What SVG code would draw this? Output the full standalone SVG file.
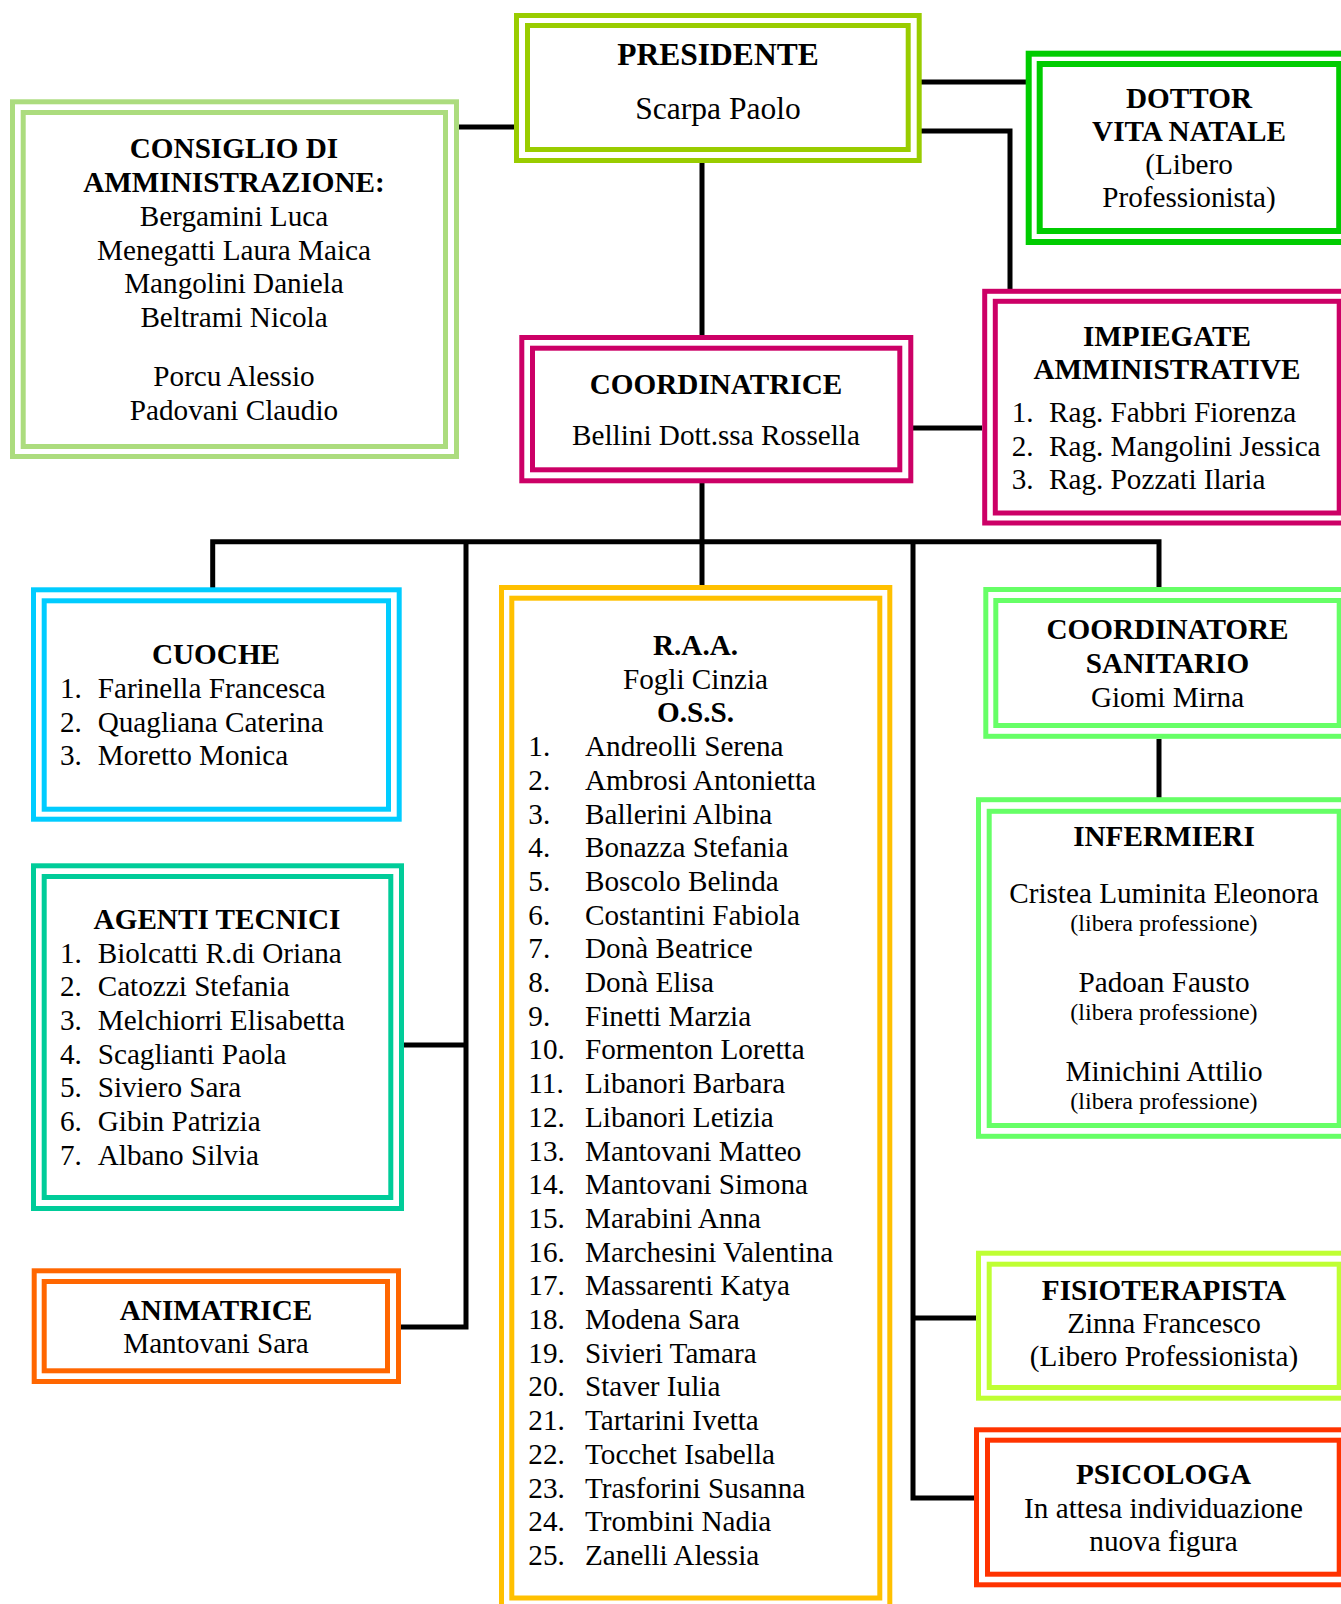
<svg xmlns="http://www.w3.org/2000/svg" width="1341" height="1604" viewBox="0 0 1341 1604">
<style>
rect{fill:none;stroke-width:5}
text{font-family:"Liberation Serif","Times New Roman",serif;font-size:29.2px;fill:#000}
.c{text-anchor:middle}
.b{font-weight:bold}
.big{font-size:31.5px}
.sm{font-size:24px}
.conn path{fill:none;stroke:#000;stroke-width:5}
</style>
<rect x="0" y="0" width="1341" height="1604" style="fill:#fff;stroke:none"/>
<g class="conn">
<path d="M458,127 H514"/>
<path d="M919,82 H1026"/>
<path d="M919,131 H1010 V291"/>
<path d="M702,163 V337"/>
<path d="M911,428 H982"/>
<path d="M702,483 V590"/>
<path d="M212.7,589 V541.7 H1159 V588"/>
<path d="M466,541.7 V1327 H401"/>
<path d="M404,1045 H466"/>
<path d="M913,541.7 V1498 H974"/>
<path d="M913,1318 H976"/>
<path d="M1159,739 V800"/>
</g>
<g id="presidente">
<rect x="516.5" y="15.5" width="402.7" height="145" stroke="#99CC00"/>
<rect x="527.5" y="25.5" width="380.7" height="124" stroke="#99CC00"/>
<text class="c b big" x="718" y="65">PRESIDENTE</text>
<text class="c big" x="718" y="119">Scarpa Paolo</text>
</g>
<g id="consiglio">
<rect x="12.5" y="101.8" width="444" height="354.7" stroke="#ACDC7E"/>
<rect x="23.2" y="112.5" width="422.3" height="334" stroke="#ACDC7E"/>
<text class="c b" x="234" y="158">CONSIGLIO DI</text>
<text class="c b" x="234" y="192">AMMINISTRAZIONE:</text>
<text class="c" x="234" y="226">Bergamini Luca</text>
<text class="c" x="234" y="260">Menegatti Laura Maica</text>
<text class="c" x="234" y="293">Mangolini Daniela</text>
<text class="c" x="234" y="327">Beltrami Nicola</text>
<text class="c" x="234" y="386">Porcu Alessio</text>
<text class="c" x="234" y="420">Padovani Claudio</text>
</g>
<g id="dottor">
<rect x="1028.7" y="53.7" width="322" height="188.3" stroke="#00CC00" style="stroke-width:6"/>
<rect x="1039.7" y="64" width="299.5" height="167" stroke="#00CC00" style="stroke-width:6"/>
<text class="c b" x="1189" y="108">DOTTOR</text>
<text class="c b" x="1189" y="141">VITA NATALE</text>
<text class="c" x="1189" y="174">(Libero</text>
<text class="c" x="1189" y="207">Professionista)</text>
</g>
<g id="impiegate">
<rect x="984.7" y="291.3" width="366" height="231.7" stroke="#CC0066"/>
<rect x="995.3" y="301.3" width="343.9" height="211.7" stroke="#CC0066"/>
<text class="c b" x="1167" y="346">IMPIEGATE</text>
<text class="c b" x="1167" y="379">AMMINISTRATIVE</text>
<text x="1011.7" y="422">1.</text><text x="1049" y="422">Rag. Fabbri Fiorenza</text>
<text x="1011.7" y="456">2.</text><text x="1049" y="456">Rag. Mangolini Jessica</text>
<text x="1011.7" y="489">3.</text><text x="1049" y="489">Rag. Pozzati Ilaria</text>
</g>
<g id="coordinatrice">
<rect x="521.8" y="337.5" width="389" height="143.3" stroke="#CC0066"/>
<rect x="532.5" y="348.2" width="367.3" height="121.6" stroke="#CC0066"/>
<text class="c b" x="716" y="394">COORDINATRICE</text>
<text class="c" x="716" y="445">Bellini Dott.ssa Rossella</text>
</g>
<g id="cuoche">
<rect x="33.5" y="589.8" width="365.7" height="229.4" stroke="#00CCFF"/>
<rect x="44.2" y="600.8" width="344.3" height="208.4" stroke="#00CCFF"/>
<text class="c b" x="216" y="664">CUOCHE</text>
<text x="60" y="698">1.</text><text x="97.7" y="698">Farinella Francesca</text>
<text x="60" y="732">2.</text><text x="97.7" y="732">Quagliana Caterina</text>
<text x="60" y="765">3.</text><text x="97.7" y="765">Moretto Monica</text>
</g>
<g id="agenti">
<rect x="33.5" y="865.8" width="368" height="342.7" stroke="#00CC99"/>
<rect x="44.2" y="876.5" width="346.6" height="321" stroke="#00CC99"/>
<text class="c b" x="217" y="929">AGENTI TECNICI</text>
<text x="60" y="962.5">1.</text><text x="97.7" y="962.5">Biolcatti R.di Oriana</text>
<text x="60" y="996.2">2.</text><text x="97.7" y="996.2">Catozzi Stefania</text>
<text x="60" y="1029.9">3.</text><text x="97.7" y="1029.9">Melchiorri Elisabetta</text>
<text x="60" y="1063.6">4.</text><text x="97.7" y="1063.6">Scaglianti Paola</text>
<text x="60" y="1097.3">5.</text><text x="97.7" y="1097.3">Siviero Sara</text>
<text x="60" y="1131">6.</text><text x="97.7" y="1131">Gibin Patrizia</text>
<text x="60" y="1164.7">7.</text><text x="97.7" y="1164.7">Albano Silvia</text>
</g>
<g id="animatrice">
<rect x="34.2" y="1270.8" width="364.3" height="110.7" stroke="#FF6600"/>
<rect x="44.2" y="1281.5" width="343.3" height="89.3" stroke="#FF6600"/>
<text class="c b" x="216" y="1320">ANIMATRICE</text>
<text class="c" x="216" y="1353">Mantovani Sara</text>
</g>
<g id="raa">
<rect x="501.5" y="587.5" width="388.3" height="1030" stroke="#FFC000"/>
<rect x="511.8" y="598.2" width="368" height="999.8" stroke="#FFC000"/>
<text class="c b" x="695.5" y="655">R.A.A.</text>
<text class="c" x="695.5" y="688.7">Fogli Cinzia</text>
<text class="c b" x="695.5" y="722.4">O.S.S.</text>
<text x="528.3" y="756.1">1.</text><text x="585" y="756.1">Andreolli Serena</text>
<text x="528.3" y="789.8">2.</text><text x="585" y="789.8">Ambrosi Antonietta</text>
<text x="528.3" y="823.5">3.</text><text x="585" y="823.5">Ballerini Albina</text>
<text x="528.3" y="857.2">4.</text><text x="585" y="857.2">Bonazza Stefania</text>
<text x="528.3" y="890.9">5.</text><text x="585" y="890.9">Boscolo Belinda</text>
<text x="528.3" y="924.6">6.</text><text x="585" y="924.6">Costantini Fabiola</text>
<text x="528.3" y="958.3">7.</text><text x="585" y="958.3">Donà Beatrice</text>
<text x="528.3" y="992">8.</text><text x="585" y="992">Donà Elisa</text>
<text x="528.3" y="1025.7">9.</text><text x="585" y="1025.7">Finetti Marzia</text>
<text x="528.3" y="1059.4">10.</text><text x="585" y="1059.4">Formenton Loretta</text>
<text x="528.3" y="1093.1">11.</text><text x="585" y="1093.1">Libanori Barbara</text>
<text x="528.3" y="1126.8">12.</text><text x="585" y="1126.8">Libanori Letizia</text>
<text x="528.3" y="1160.5">13.</text><text x="585" y="1160.5">Mantovani Matteo</text>
<text x="528.3" y="1194.2">14.</text><text x="585" y="1194.2">Mantovani Simona</text>
<text x="528.3" y="1227.9">15.</text><text x="585" y="1227.9">Marabini Anna</text>
<text x="528.3" y="1261.6">16.</text><text x="585" y="1261.6">Marchesini Valentina</text>
<text x="528.3" y="1295.3">17.</text><text x="585" y="1295.3">Massarenti Katya</text>
<text x="528.3" y="1329">18.</text><text x="585" y="1329">Modena Sara</text>
<text x="528.3" y="1362.7">19.</text><text x="585" y="1362.7">Sivieri Tamara</text>
<text x="528.3" y="1396.4">20.</text><text x="585" y="1396.4">Staver Iulia</text>
<text x="528.3" y="1430.1">21.</text><text x="585" y="1430.1">Tartarini Ivetta</text>
<text x="528.3" y="1463.8">22.</text><text x="585" y="1463.8">Tocchet Isabella</text>
<text x="528.3" y="1497.5">23.</text><text x="585" y="1497.5">Trasforini Susanna</text>
<text x="528.3" y="1531.2">24.</text><text x="585" y="1531.2">Trombini Nadia</text>
<text x="528.3" y="1564.9">25.</text><text x="585" y="1564.9">Zanelli Alessia</text>
</g>
<g id="coordinatore-sanitario">
<rect x="985.8" y="589.5" width="365" height="146.8" stroke="#66FF66"/>
<rect x="995.8" y="600.5" width="343.4" height="125" stroke="#66FF66"/>
<text class="c b" x="1167.5" y="639">COORDINATORE</text>
<text class="c b" x="1167.5" y="673">SANITARIO</text>
<text class="c" x="1167.5" y="706.5">Giomi Mirna</text>
</g>
<g id="infermieri">
<rect x="978.5" y="799.7" width="372" height="336.6" stroke="#66FF66"/>
<rect x="989.2" y="811.3" width="350" height="314.2" stroke="#66FF66"/>
<text class="c b" x="1164" y="846">INFERMIERI</text>
<text class="c" x="1164" y="903">Cristea Luminita Eleonora</text>
<text class="c sm" x="1164" y="931">(libera professione)</text>
<text class="c" x="1164" y="992">Padoan Fausto</text>
<text class="c sm" x="1164" y="1020">(libera professione)</text>
<text class="c" x="1164" y="1081">Minichini Attilio</text>
<text class="c sm" x="1164" y="1109">(libera professione)</text>
</g>
<g id="fisioterapista">
<rect x="978.5" y="1253.2" width="372" height="145" stroke="#BFFF33"/>
<rect x="989.2" y="1264.2" width="350" height="123.3" stroke="#BFFF33"/>
<text class="c b" x="1164" y="1300">FISIOTERAPISTA</text>
<text class="c" x="1164" y="1333">Zinna Francesco</text>
<text class="c" x="1164" y="1366">(Libero Professionista)</text>
</g>
<g id="psicologa">
<rect x="976.5" y="1429.8" width="374" height="155" stroke="#FF3300"/>
<rect x="987.5" y="1440.2" width="351.7" height="134" stroke="#FF3300"/>
<text class="c b" x="1163.5" y="1484">PSICOLOGA</text>
<text class="c" x="1163.5" y="1518">In attesa individuazione</text>
<text class="c" x="1163.5" y="1551">nuova figura</text>
</g>
</svg>
